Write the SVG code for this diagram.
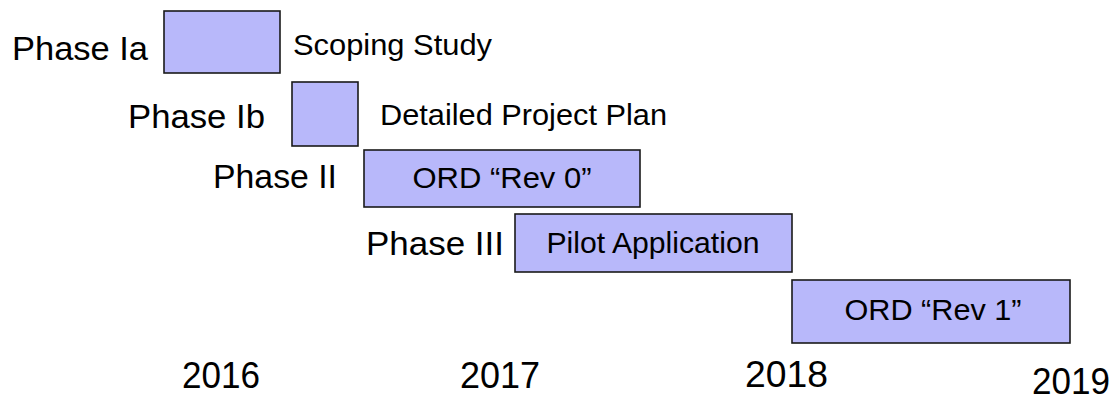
<svg xmlns="http://www.w3.org/2000/svg" width="1120" height="398" viewBox="0 0 1120 398">
<style>
.bar{fill:#b8b8fa;stroke:#1a1a1a;stroke-width:1.6}
.ph{font-family:"Liberation Sans",Arial,sans-serif;font-size:34px;fill:#000}
.lb{font-family:"Liberation Sans",Arial,sans-serif;font-size:30px;fill:#000}
.bl{font-family:"Liberation Sans",Arial,sans-serif;font-size:30px;fill:#000;text-anchor:middle}
.yr{font-family:"Liberation Sans",Arial,sans-serif;font-size:36px;fill:#000}
</style>
<rect width="1120" height="398" fill="#ffffff"/>
<g id="phase-ia">
<text class="ph" x="12" y="60" textLength="136" lengthAdjust="spacingAndGlyphs">Phase Ia</text>
<rect class="bar" x="164" y="11" width="116" height="62"/>
<text class="lb" x="293" y="55" textLength="199" lengthAdjust="spacingAndGlyphs">Scoping Study</text>
</g>
<g id="phase-ib">
<text class="ph" x="128" y="128" textLength="137" lengthAdjust="spacingAndGlyphs">Phase Ib</text>
<rect class="bar" x="292" y="82" width="66" height="64"/>
<text class="lb" x="380" y="125" textLength="287" lengthAdjust="spacingAndGlyphs">Detailed Project Plan</text>
</g>
<g id="phase-ii">
<text class="ph" x="213" y="188" textLength="124" lengthAdjust="spacingAndGlyphs">Phase II</text>
<rect class="bar" x="364" y="150" width="276" height="57"/>
<text class="bl" x="502" y="188" textLength="179" lengthAdjust="spacingAndGlyphs">ORD “Rev 0”</text>
</g>
<g id="phase-iii">
<text class="ph" x="366" y="255" textLength="138" lengthAdjust="spacingAndGlyphs">Phase III</text>
<rect class="bar" x="515" y="214" width="277" height="58"/>
<text class="bl" x="653" y="253" textLength="213" lengthAdjust="spacingAndGlyphs">Pilot Application</text>
</g>
<g id="rev1">
<rect class="bar" x="792" y="280" width="278" height="63"/>
<text class="bl" x="933" y="320" textLength="177" lengthAdjust="spacingAndGlyphs">ORD “Rev 1”</text>
</g>
<g id="years">
<text class="yr" x="182" y="388" textLength="78" lengthAdjust="spacingAndGlyphs">2016</text>
<text class="yr" x="460" y="388" textLength="80" lengthAdjust="spacingAndGlyphs">2017</text>
<text class="yr" x="745" y="387" textLength="83" lengthAdjust="spacingAndGlyphs">2018</text>
<text class="yr" x="1032" y="394" textLength="78" lengthAdjust="spacingAndGlyphs">2019</text>
</g>
<g id="connectors"></g>
</svg>
